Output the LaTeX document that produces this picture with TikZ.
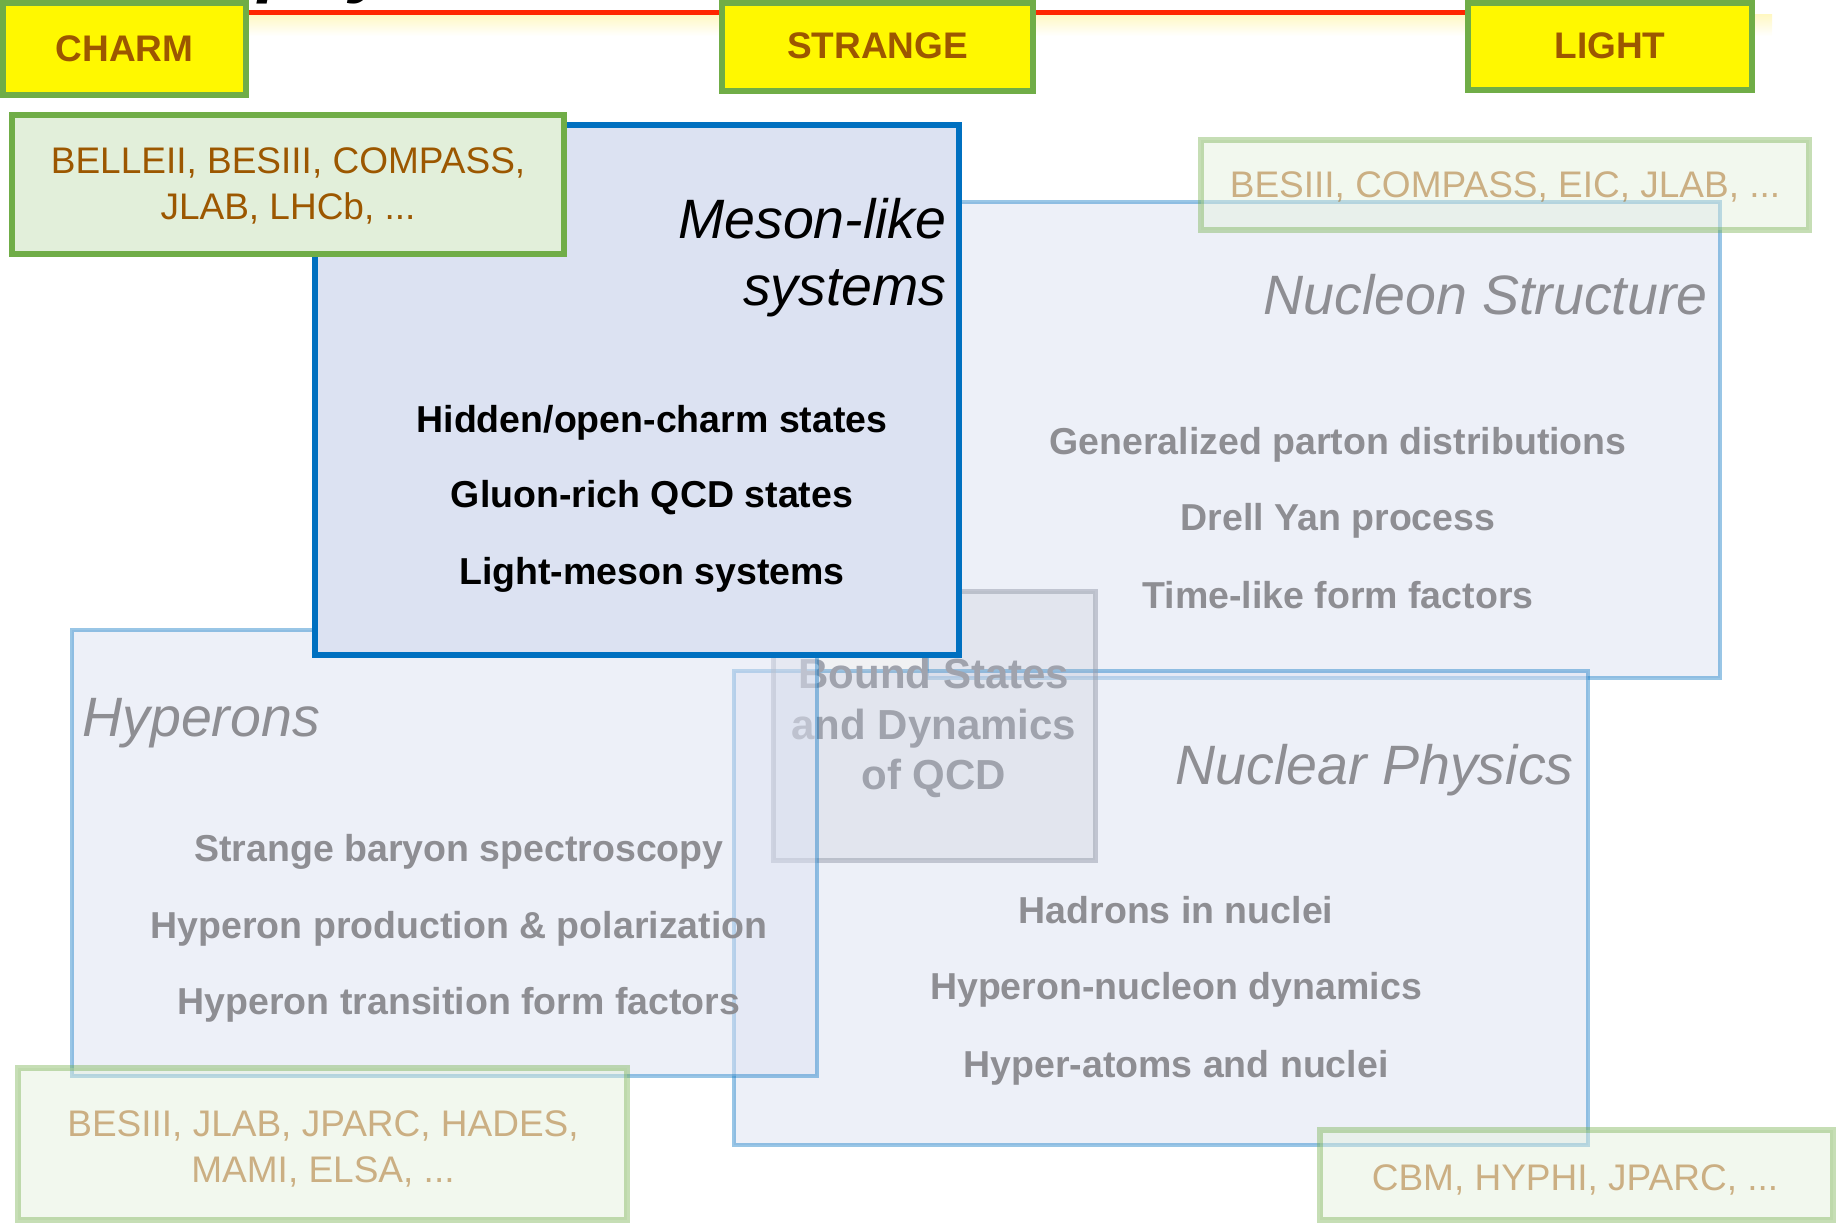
\documentclass[tikz,border=0pt]{standalone}
\usepackage{fontspec}
\setmainfont{Liberation Sans}
\usetikzlibrary{fit}

\definecolor{boxyellow}{RGB}{255,248,0}
\definecolor{leafgreen}{RGB}{112,173,71}
\definecolor{mintfill}{RGB}{226,239,218}
\definecolor{rust}{RGB}{156,87,0}
\definecolor{mesonfill}{RGB}{220,226,242}
\definecolor{mesonblue}{RGB}{0,112,192}
\definecolor{fadetext}{RGB}{142,142,147}
\definecolor{boundfill}{RGB}{180,184,196}
\definecolor{boundline}{RGB}{150,155,170}
\definecolor{boundtext}{RGB}{160,163,173}
\definecolor{linered}{RGB}{255,38,0}
\definecolor{glow}{RGB}{255,248,196}

\pgfdeclarelayer{back}
\pgfsetlayers{back,main}

\tikzset{
  flavour/.style={draw=leafgreen, fill=boxyellow, line width=3pt, inner sep=0pt},
  flavourtext/.style={text=rust, font=\fontsize{18.5}{22}\selectfont\bfseries, inner sep=0pt, anchor=base},
  mesonbox/.style={draw=mesonblue, fill=mesonfill, line width=2.75pt, inner sep=0pt},
  fadebox/.style={draw=mesonblue, draw opacity=0.4, fill=mesonfill, fill opacity=0.5, line width=2.4pt, inner sep=0pt},
  boundbox/.style={draw=boundline, draw opacity=0.5, fill=boundfill, fill opacity=0.2, line width=2.5pt, inner sep=0pt},
  exptbox/.style={draw=leafgreen, fill=mintfill, line width=2.7pt, inner sep=0pt},
  fadeexptbox/.style={draw=leafgreen, draw opacity=0.4, fill=mintfill, fill opacity=0.45, line width=2.6pt, inner sep=0pt},
  title/.style={font=\fontsize{27.75}{33}\selectfont\itshape, inner sep=0pt},
  fadetitle/.style={title, text=fadetext},
  topic/.style={font=\fontsize{18.75}{22}\selectfont\bfseries, inner sep=0pt, anchor=base},
  fadetopic/.style={topic, text=fadetext},
  boundtopic/.style={font=\fontsize{21}{25}\selectfont\bfseries, text=boundtext, inner sep=0pt, anchor=base},
  expt/.style={font=\fontsize{18.5}{22}\selectfont, text=rust, inner sep=0pt, anchor=base},
  fadeexpt/.style={expt, text opacity=0.45},
  redline/.style={draw=linered, line width=2.6pt},
}

\begin{document}
\begin{tikzpicture}[x=0.5pt, y=-0.5pt]
  \useasboundingbox (0,0) rectangle (1845,1224);
  \clip (0,0) rectangle (1845,1224);

  % headline running off the top edge
  \node[anchor=base west, font=\fontsize{37.5}{42}\selectfont\bfseries\itshape, inner sep=0pt]
    (headline) at (258,-11.5) {physics};

  % quark-flavour axis
  \node[flavour, fit={(3,3)(246,95)}] (charm) {};
  \node[flavour, fit={(722,3)(1033,91)}] (strange) {};
  \node[flavour, fit={(1468,3)(1752,90)}] (light) {};
  \node[flavourtext] (charmlabel) at (124.5,62) {CHARM};
  \node[flavourtext] (strangelabel) at (877.5,59) {STRANGE};
  \node[flavourtext] (lightlabel) at (1610,59) {LIGHT};

  \coordinate (redy) at (0,12.7);
  \coordinate (glowtop) at (0,15);
  \coordinate (glowend) at (1772,36);
  \begin{pgfonlayer}{back}
    \shade[top color=glow, bottom color=white] (charm.east |- glowtop) rectangle (glowend);
    \draw[redline] (charm.east |- redy) -- (light.west |- redy);
  \end{pgfonlayer}

  % nucleon structure
  \node[fadebox, fit={(927,202)(1720,678)}] (nucleon) {};
  \node[fadetitle, anchor=base east] (nucleontitle) at (1708,315) {Nucleon Structure};
  \node[fadetopic] (gpd) at (1338,455) {Generalized parton distributions};
  \node[fadetopic] (dy) at (1338,530) {Drell Yan process};
  \node[fadetopic] (tlff) at (1338,608) {Time-like form factors};

  % nuclear physics
  \node[fadebox, fit={(734,671)(1588,1145)}] (nuclear) {};
  \node[fadetitle, anchor=base east] (nucleartitle) at (1574,784) {Nuclear Physics};
  \node[fadetopic] (hadnuc) at (1176,923) {Hadrons in nuclei};
  \node[fadetopic] (hyn) at (1176,999) {Hyperon-nucleon dynamics};
  \node[fadetopic] (hypatom) at (1176,1077) {Hyper-atoms and nuclei};

  % central theme
  \node[boundbox, fit={(773,591)(1095,860)}] (bound) {};
  \node[boundtopic] (bound1) at (934,688) {Bound States};
  \node[boundtopic] (bound2) at (934,739) {and Dynamics};
  \node[boundtopic] (bound3) at (934,789) {of QCD};

  % hyperons
  \node[fadebox, fit={(72,630)(817,1076)}] (hyperons) {};
  \node[fadetitle, anchor=base west] (hyperontitle) at (82,736) {Hyperons};
  \node[fadetopic] (sbs) at (459,861) {Strange baryon spectroscopy};
  \node[fadetopic] (hpp) at (459,938) {Hyperon production \& polarization};
  \node[fadetopic] (htff) at (459,1014) {Hyperon transition form factors};

  % meson-like systems
  \node[mesonbox, fit={(315,125)(959,655)}] (meson) {};
  \node[title, anchor=base east] (mesontitle1) at (947,239) {Meson-like};
  \node[title, anchor=base east] (mesontitle2) at (947,306) {systems};
  \node[topic] (hidden) at (652,433) {Hidden/open-charm states};
  \node[topic] (gluon) at (652,508) {Gluon-rich QCD states};
  \node[topic] (lightmeson) at (652,584) {Light-meson systems};

  % experiments
  \node[exptbox, fit={(12,115)(564,254)}] (charmexp) {};
  \node[expt] (charmexp1) at (288,174) {BELLEII, BESIII, COMPASS,};
  \node[expt] (charmexp2) at (288,220) {JLAB, LHCb, ...};

  \node[fadeexptbox, fit={(1201,140)(1809,230)}] (nucleonexp) {};
  \node[fadeexpt] (nucleonexp1) at (1505,198) {BESIII, COMPASS, EIC, JLAB, ...};

  \node[fadeexptbox, fit={(18,1068)(627,1220)}] (hyperonexp) {};
  \node[fadeexpt] (hyperonexp1) at (323,1136) {BESIII, JLAB, JPARC, HADES,};
  \node[fadeexpt] (hyperonexp2) at (323,1182) {MAMI, ELSA, ...};

  \node[fadeexptbox, fit={(1320,1130)(1833,1220)}] (nuclearexp) {};
  \node[fadeexpt] (nuclearexp1) at (1575,1190) {CBM, HYPHI, JPARC, ...};
\end{tikzpicture}
\end{document}
